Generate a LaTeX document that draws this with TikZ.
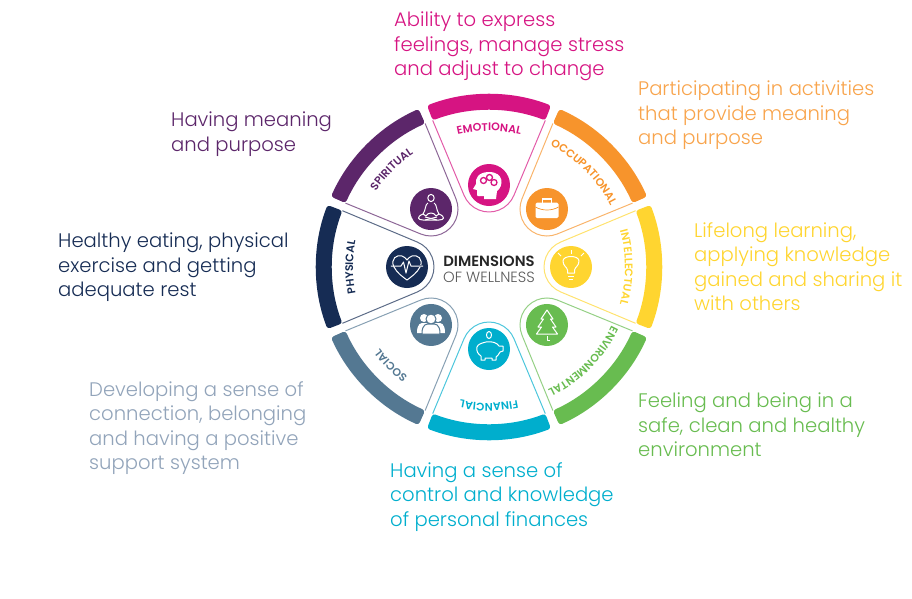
\documentclass[tikz,border=0pt]{standalone}
\usepackage{fontspec}
\setmainfont{Poppins}[UprightFont=* Light,BoldFont=* SemiBold]
\usetikzlibrary{decorations.text}
\definecolor{emotionalpink}{RGB}{214,20,130}
\definecolor{occuporange}{RGB}{247,148,44}
\definecolor{intellyellow}{RGB}{255,213,48}
\definecolor{enviragreen}{RGB}{104,188,80}
\definecolor{financecyan}{RGB}{0,174,205}
\definecolor{socialgrey}{RGB}{84,120,146}
\definecolor{socialtext}{RGB}{146,164,186}
\definecolor{physicalnavy}{RGB}{22,44,84}
\definecolor{spiritpurple}{RGB}{92,38,106}
\tikzset{
    infotext/.style={
        anchor=north west,
        inner sep=0pt,
        align=left,
        font=\fontsize{19.6}{24.5}\selectfont
    },
    iconline/.style={
        white,
        line width=1pt,
        line join=round
    },
    iconfill/.style={
        white,
        fill=white
    }
}
% band, outline, disc and curved label of one part of the wheel
\newcommand{\wheelpart}[3]{
	\begin{scope}[rotate=#1]
		\fill[#2, rounded corners=3pt] (111:173) arc (111:69:173) -- (69:157) arc (69:111:157) -- cycle;
		\draw[#2!70, line width=1pt] (56.3,146.6) -- (24.9,71.6) arc (-22.7:-157.3:27) -- (-56.3,146.6);
		\fill[#2] (0,82) circle (21);
		\path[decorate, decoration={text along path, text align=center, text={|\bfseries\fontsize{11}{12}\selectfont\color{#2}|#3}}] (118:136) arc (118:62:136);
	\end{scope}
}
\begin{document}
\begin{tikzpicture}[x=1pt, y=1pt]
	\useasboundingbox (-489,-331) rectangle (423,267);

	\wheelpart{0}{emotionalpink}{EMOTIONAL}
	\wheelpart{-45}{occuporange}{OCCUPATIONAL}
	\wheelpart{-90}{intellyellow}{INTELLECTUAL}
	\wheelpart{-135}{enviragreen}{ENVIRONMENTAL}
	\wheelpart{180}{financecyan}{FINANCIAL}
	\wheelpart{135}{socialgrey}{SOCIAL}
	\wheelpart{90}{physicalnavy}{PHYSICAL}
	\wheelpart{45}{spiritpurple}{SPIRITUAL}

	\node [anchor=center, inner sep=0pt, black!85, font=\bfseries\fontsize{14.8}{15}\selectfont] (dimensions) at (0,6) {DIMENSIONS};
	\node [anchor=center, inner sep=0pt, black!65, font=\fontsize{14.8}{15}\selectfont] (wellness) at (0,-10) {OF WELLNESS};

	% emotional: head
	\begin{scope}[shift={(0,82)}]
		\fill[iconfill] (7,-14) -- (8,-6) .. controls (15,-1) and (15,13) .. (0,13) .. controls (-11,13) and (-14,6) .. (-13,1) -- (-16,-4) -- (-12,-5) -- (-12,-10) .. controls (-12,-12) and (-8,-11) .. (-5,-11) -- (-5,-14) -- cycle;
		\draw[emotionalpink, line width=1.3pt, fill=white] (-5.5,4.5) circle (3);
		\draw[emotionalpink, line width=1.3pt, fill=white] (0.5,7.5) circle (3);
		\draw[emotionalpink, line width=1.3pt, fill=white] (5,2.5) circle (3);
	\end{scope}

	% occupational: briefcase
	\begin{scope}[shift={(58,58)}]
		\draw[white, line width=1.6pt] (-4.5,6) -- (-4.5,10) -- (4.5,10) -- (4.5,6);
		\fill[iconfill, rounded corners=1.5pt] (-11.5,-9) rectangle (11.5,6.5);
		\draw[occuporange, line width=0.7pt] (-11.5,2) .. controls (-5,-2) and (5,-2) .. (11.5,2);
	\end{scope}

	% intellectual: bulb
	\begin{scope}[shift={(82,0)}]
		\draw[iconline] (-3.5,-6) -- (-3.5,-3) .. controls (-4,0) and (-8,1) .. (-8,6) .. controls (-8,12) and (8,12) .. (8,6) .. controls (8,1) and (4,0) .. (3.5,-3) -- (3.5,-6) -- cycle;
		\draw[iconline] (-3,-9) -- (3,-9);
		\draw[iconline] (-2,-12) -- (2,-12);
		\draw[iconline] (0,13) -- (0,17);
		\draw[iconline] (-10,11) -- (-13,14);
		\draw[iconline] (10,11) -- (13,14);
	\end{scope}

	% environmental: tree
	\begin{scope}[shift={(58,-58)}]
		\draw[iconline] (0,15) -- (-6,6) -- (-3.5,6) -- (-9,-2) -- (-5.5,-2) -- (-10.5,-9) -- (10.5,-9) -- (5.5,-2) -- (9,-2) -- (3.5,6) -- (6,6) -- cycle;
		\draw[iconline] (0,-11) -- (0,-15) -- (3,-15);
	\end{scope}

	% financial: piggy bank
	\begin{scope}[shift={(0,-82)}]
		\draw[iconline] (-3,7) .. controls (4,8) and (8,6) .. (10,3) -- (14,3) -- (14,-2) -- (11,-3) .. controls (10,-6) and (8,-7) .. (7,-8) -- (7,-11) -- (3,-11) -- (3,-9) -- (-4,-9) -- (-4,-11) -- (-8,-11) -- (-8,-7) .. controls (-11,-5) and (-13,-2) .. (-12,2) .. controls (-11,5) and (-7,6) .. (-3,7);
		\draw[iconline] (0,14) circle (2.5 and 3.5);
	\end{scope}

	% social: three people
	\begin{scope}[shift={(-58,-58)}]
		\fill[iconfill] (-7,7) circle (4);
		\fill[iconfill] (7,7) circle (4);
		\fill[iconfill] (-14,-8) .. controls (-14,2) and (-10,2) .. (-7,2) .. controls (-4,2) and (0,2) .. (0,-8) -- cycle;
		\fill[iconfill] (14,-8) .. controls (14,2) and (10,2) .. (7,2) .. controls (4,2) and (0,2) .. (0,-8) -- cycle;
		\draw[socialgrey, line width=1pt, fill=white] (0,6) circle (5);
		\draw[socialgrey, line width=1pt, fill=white] (-9,-9) .. controls (-9,2) and (-4,1) .. (0,1) .. controls (4,1) and (9,2) .. (9,-9) -- cycle;
	\end{scope}

	% physical: heart with pulse
	\begin{scope}[shift={(-82,0)}]
		\draw[iconline] (-13,0) .. controls (-17,8) and (-10,13) .. (-5,11) .. controls (-3,10) and (-1,9) .. (0,7) .. controls (1,9) and (3,10) .. (5,11) .. controls (10,13) and (17,8) .. (13,0) .. controls (10,-6) and (4,-10) .. (0,-13) .. controls (-4,-10) and (-10,-6) .. (-13,0);
		\draw[physicalnavy, line width=2.4pt] (-6,1) -- (14,1);
		\draw[iconline] (-16,1) -- (-6,1) -- (-3.5,5) -- (-1,-6) -- (2,6) -- (4,1) -- (16,1);
	\end{scope}

	% spiritual: person sitting
	\begin{scope}[shift={(-58,58)}]
		\draw[iconline] (0,11) circle (3.2 and 3.6);
		\draw[iconline] (-3,6) .. controls (-6,5) and (-5,-1) .. (-8,-5) -- (-5,-7) .. controls (-3,-3) and (3,-3) .. (5,-7) -- (8,-5) .. controls (5,-1) and (6,5) .. (3,6);
		\draw[iconline] (-8,-5) .. controls (-15,-8) and (-13,-11) .. (-8,-11) -- (8,-11) .. controls (13,-11) and (15,-8) .. (8,-5);
		\draw[iconline] (-6,-8) -- (6,-11);
		\draw[iconline] (6,-8) -- (-6,-11);
	\end{scope}

	\node [infotext, emotionalpink] (emotionaltext) at (-95,255) {Ability to express\\feelings, manage stress\\and adjust to change};
	\node [infotext, occuporange!85] (occuptext) at (149,186) {Participating in activities\\that provide meaning\\and purpose};
	\node [infotext, intellyellow] (intelltext) at (205,45) {Lifelong learning,\\applying knowledge\\gained and sharing it\\with others};
	\node [infotext, enviragreen] (envirotext) at (149,-126) {Feeling and being in a\\safe, clean and healthy\\environment};
	\node [infotext, financecyan] (financetext) at (-99,-195) {Having a sense of\\control and knowledge\\of personal finances};
	\node [infotext, socialtext] (socialinfo) at (-400,-114) {Developing a sense of\\connection, belonging\\and having a positive\\support system};
	\node [infotext, physicalnavy] (physicaltext) at (-431,34) {Healthy eating, physical\\exercise and getting\\adequate rest};
	\node [infotext, spiritpurple] (spirittext) at (-318,155) {Having meaning\\and purpose};
\end{tikzpicture}
\end{document}
